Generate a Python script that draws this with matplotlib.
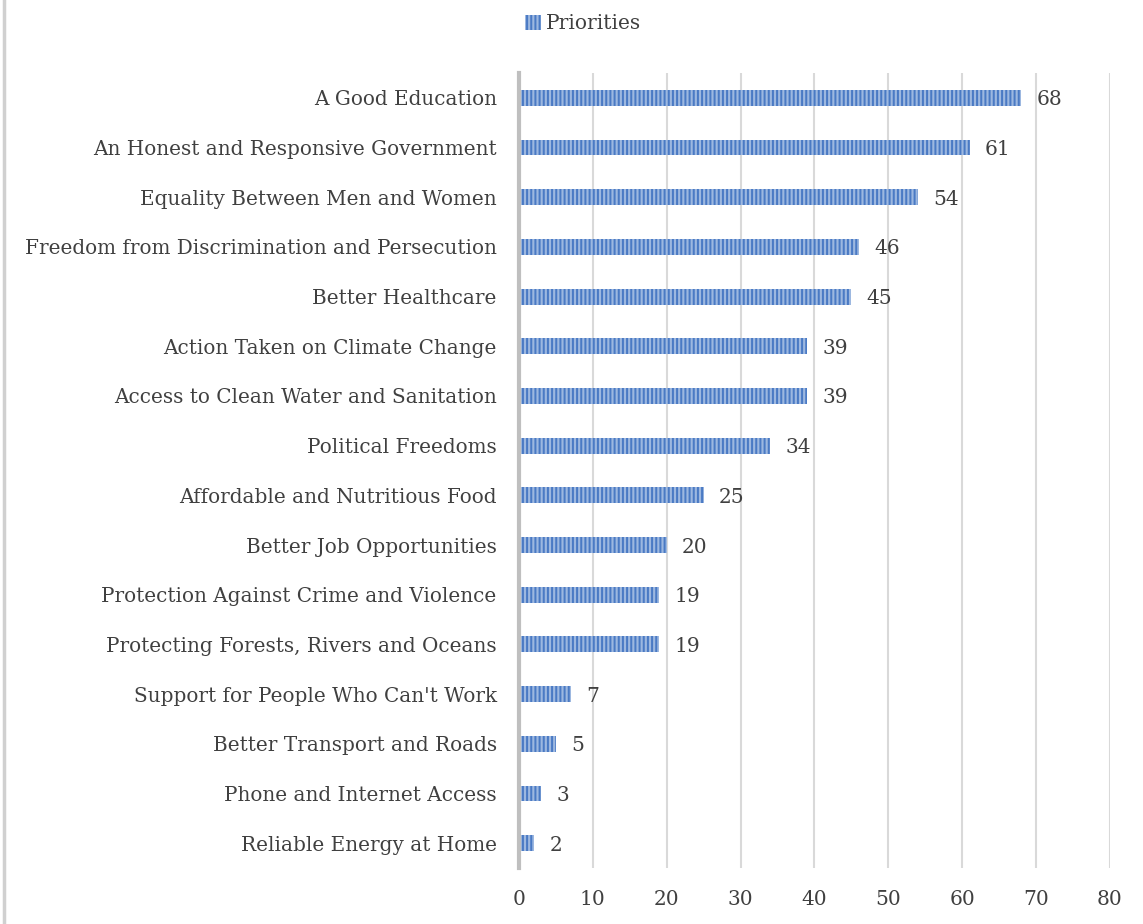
import matplotlib.pyplot as plt
import matplotlib.lines as mlines

# priorities, top to bottom as shown
categories = ["A Good Education", "An Honest and Responsive Government",
              "Equality Between Men and Women",
              "Freedom from Discrimination and Persecution",
              "Better Healthcare", "Action Taken on Climate Change",
              "Access to Clean Water and Sanitation", "Political Freedoms",
              "Affordable and Nutritious Food", "Better Job Opportunities",
              "Protection Against Crime and Violence",
              "Protecting Forests, Rivers and Oceans",
              "Support for People Who Can't Work",
              "Better Transport and Roads", "Phone and Internet Access",
              "Reliable Energy at Home"]
values = [68, 61, 54, 46, 45, 39, 39, 34, 25, 20, 19, 19, 7, 5, 3, 2]
xticks = [0, 10, 20, 30, 40, 50, 60, 70, 80]

FONT = "DejaVu Serif"
TXT = "#404040"
plt.rcParams["font.family"] = FONT
plt.rcParams["hatch.linewidth"] = 1.45

fig = plt.figure(figsize=(11.43, 9.24), dpi=100)
ax = fig.add_axes([0.454, 0.0606, 0.517, 0.8604])

ypos = list(range(len(values)))
ax.barh(ypos, values, height=0.32, color="#9DB8E0", edgecolor="#4A7AC4",
        hatch="||||", linewidth=0, label="Priorities")
for y, v in zip(ypos, values):
    ax.text(v + 2.1, y + 0.04, str(v), va="center", ha="left", fontsize=14.5,
            color=TXT)

ax.set_xlim(0, 80)
ax.set_ylim(len(values) - 0.5, -0.5)
ax.set_xticks(xticks)
ax.set_yticks(ypos)
ax.set_yticklabels(categories)
ax.tick_params(axis="both", length=0, labelsize=14.4, labelcolor=TXT)
ax.tick_params(axis="x", labelsize=14.5, pad=16)
ax.tick_params(axis="y", pad=16)
ax.grid(axis="x", color="#D9D9D9", linewidth=1.5)
ax.set_axisbelow(True)
for s in ["top", "right", "bottom"]:
    ax.spines[s].set_visible(False)
ax.spines["left"].set_color("#BFBFBF")
ax.spines["left"].set_linewidth(3)

leg = fig.legend(loc="upper center", bbox_to_anchor=(0.51, 1.004),
                 frameon=False, fontsize=14.5, handlelength=0.8,
                 handleheight=0.8, handletextpad=0.2)
for t in leg.get_texts():
    t.set_color(TXT)

# thin frame line along the left edge
fig.add_artist(mlines.Line2D([0.0035, 0.0035], [0, 1], color="#D0D0D0",
                             linewidth=2.5, transform=fig.transFigure))

fig.savefig("out.png", dpi=100)
